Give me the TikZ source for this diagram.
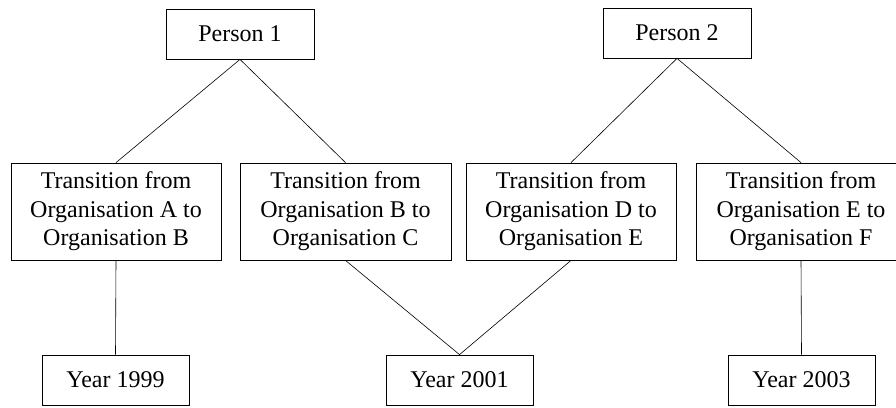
\documentclass[tikz,border=0pt]{standalone}
\usepackage{fontspec}
\setmainfont{Liberation Serif}
\begin{document}
\begin{tikzpicture}[x=1pt,y=-1pt,
  box/.style={draw,line width=0.8pt,rectangle,inner sep=0pt,align=center,
    font=\fontsize{24}{28.5}\selectfont},
  pbox/.style={box,minimum width=148pt,minimum height=50pt},
  tbox/.style={box,minimum width=210pt,minimum height=97pt},
  ybox/.style={box,minimum width=147pt,minimum height=50pt},
  link/.style={line width=0.6pt}]
\useasboundingbox (0,0) rectangle (896,407);
\node[pbox] (p1) at (240,34) {Person 1};
\node[pbox] (p2) at (677,33) {Person 2};
\node[tbox] (t1) at (116,211.5) {Transition from\\Organisation A to\\Organisation B};
\node[tbox,minimum width=211pt] (t2) at (345.5,211.5) {Transition from\\Organisation B to\\Organisation C};
\node[tbox] (t3) at (571,211.5) {Transition from\\Organisation D to\\Organisation E};
\node[tbox] (t4) at (801,211.5) {Transition from\\Organisation E to\\Organisation F};
\node[ybox] (y1) at (115.5,380) {Year 1999};
\node[ybox] (y2) at (459.5,380) {Year 2001};
\node[ybox] (y3) at (801.5,380) {Year 2003};
\draw[link] (t1.north) -- (p1.south) -- (t2.north);
\draw[link] (t3.north) -- (p2.south) -- (t4.north);
\draw[link] (t1.south) -- (y1.north);
\draw[link] (t2.south) -- (y2.north) -- (t3.south);
\draw[link] (t4.south) -- (y3.north);
\end{tikzpicture}
\end{document}
